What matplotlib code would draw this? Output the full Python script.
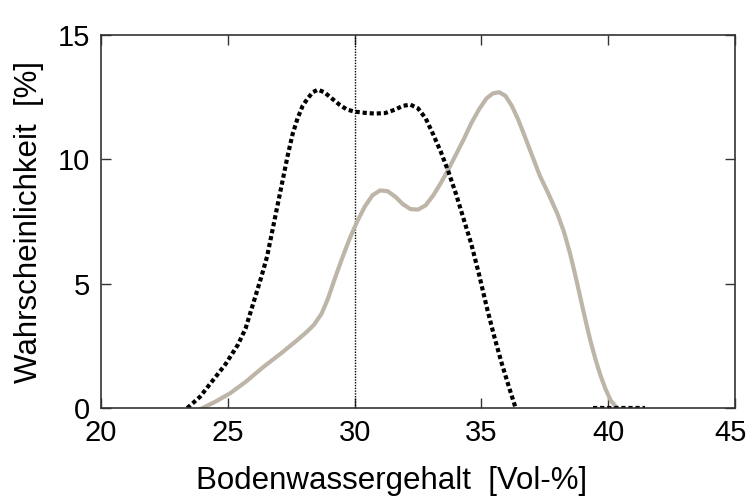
import numpy as np
import matplotlib.pyplot as plt
import matplotlib.transforms as mtransforms

plt.rcParams["font.family"] = ["Liberation Sans", "DejaVu Sans"]

# dotted black curve
dot_x = [23.4, 23.9, 24.4, 24.9, 25.4, 25.7, 26.0, 26.3, 26.55, 26.75, 26.95, 27.15,
         27.35, 27.55, 27.75, 27.95, 28.15, 28.35, 28.55, 28.8, 29.1, 29.4, 29.7,
         30.0, 30.4, 30.8, 31.2, 31.6, 31.9, 32.2, 32.5, 32.8, 33.1, 33.4, 33.7,
         34.0, 34.3, 34.6, 34.9, 35.2, 35.5, 35.8, 36.1, 36.35]
dot_y = [0.0, 0.45, 1.1, 1.75, 2.55, 3.2, 4.2, 5.2, 6.1, 7.1, 8.1, 9.1,
         10.1, 11.0, 11.65, 12.15, 12.45, 12.7, 12.8, 12.7, 12.45, 12.2, 12.0,
         11.92, 11.87, 11.84, 11.86, 12.0, 12.15, 12.2, 12.05, 11.65, 11.0, 10.3, 9.5,
         8.6, 7.6, 6.6, 5.4, 4.1, 2.9, 1.8, 0.8, 0.0]
tail_x = [39.4, 41.45]
tail_y = [0.0, 0.0]

# grey curve
grey_x = [24.0, 24.5, 25.1, 25.7, 26.4, 27.1, 27.7, 28.1, 28.4, 28.7, 28.95, 29.2,
          29.5, 29.8, 30.1, 30.4, 30.7, 31.0, 31.3, 31.6, 31.9, 32.2, 32.5, 32.8,
          33.1, 33.4, 33.7, 34.0, 34.3, 34.6, 34.9, 35.2, 35.45, 35.7, 35.95, 36.2,
          36.45, 36.7, 37.0, 37.3, 37.65, 38.0, 38.25, 38.5, 38.7, 38.9, 39.1, 39.3,
          39.5, 39.7, 39.9, 40.1, 40.35]
grey_y = [0.0, 0.25, 0.6, 1.05, 1.65, 2.2, 2.7, 3.05, 3.35, 3.8, 4.4, 5.15,
          6.0, 6.8, 7.5, 8.1, 8.55, 8.75, 8.72, 8.5, 8.2, 8.0, 7.98, 8.15,
          8.55, 9.05, 9.6, 10.2, 10.8, 11.45, 12.0, 12.45, 12.65, 12.7, 12.55, 12.15,
          11.6, 10.95, 10.15, 9.35, 8.6, 7.8, 7.1, 6.2, 5.35, 4.45, 3.55, 2.7,
          1.95, 1.3, 0.75, 0.3, 0.0]

vline_x = 30
xticks = [20, 25, 30, 35, 40, 45]
yticks = [0, 5, 10, 15]

fig = plt.figure(figsize=(7.49, 4.97), dpi=100)
ax = fig.add_axes([0.1349, 0.179, 0.8464, 0.7506])

ax.axvline(vline_x, color="black", lw=1.0, ls=(0, (1, 1)))
ax.plot(grey_x, grey_y, color="#bdb6a8", lw=3.0, solid_joinstyle="round")
ax.plot(dot_x, dot_y, color="black", lw=3.0, ls=(0, (1.0, 0.7)), dash_capstyle="butt")
ax.plot(tail_x, tail_y, color="black", lw=3.0, ls=(0, (1.0, 0.7)), dash_capstyle="butt")

ax.set_xlim(20, 45)
ax.set_ylim(0, 15)
ax.set_xticks(xticks)
ax.set_yticks(yticks)
ax.tick_params(direction="in", length=7, width=1, top=True, right=True,
               labelsize=21, pad=8, color="#333333")
for s in ax.spines.values():
    s.set_linewidth(1.2)
    s.set_color("#333333")

# last x tick label sits slightly left so it stays inside the figure
last = ax.get_xticklabels()[-1]
last.set_transform(last.get_transform() +
                   mtransforms.ScaledTranslation(-4 / 100, 0, fig.dpi_scale_trans))

ax.set_xlabel("Bodenwassergehalt  [Vol-%]", fontsize=22.5)
ax.set_ylabel("Wahrscheinlichkeit  [%]", fontsize=22.5, labelpad=10)
ax.xaxis.set_label_coords(0.459, -0.155)

fig.savefig("out.png", dpi=100)
